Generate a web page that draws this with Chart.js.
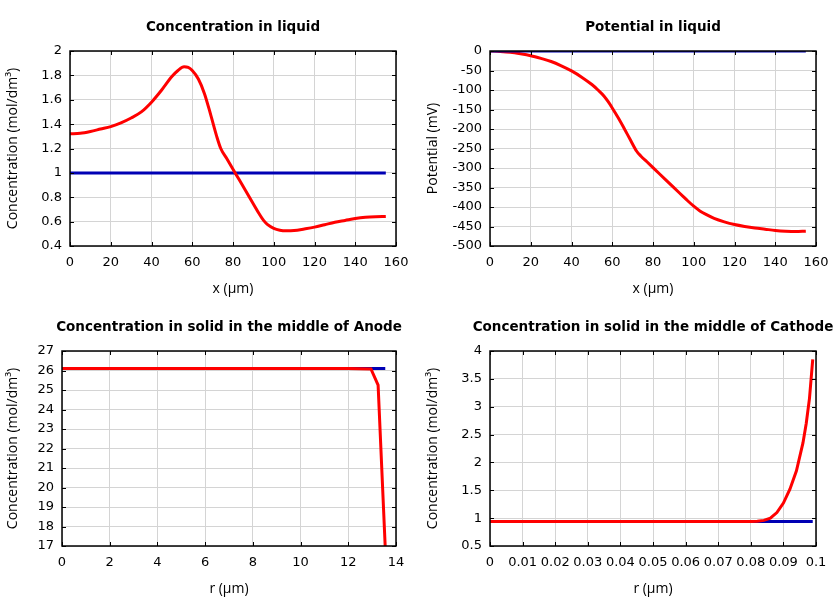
<!DOCTYPE html>
<html><head><meta charset="utf-8">
<script src="https://cdn.jsdelivr.net/npm/chart.js@4/dist/chart.umd.min.js"></script>
<style>
html,body{margin:0;padding:0;background:#fff;width:840px;height:600px;overflow:hidden;position:relative}
canvas{position:absolute}
</style></head><body>
<canvas id="c1" width="466" height="300" style="left:0;top:0"></canvas>
<canvas id="c2" width="466" height="300" style="left:420px;top:0"></canvas>
<canvas id="c3" width="458" height="300" style="left:0;top:300px"></canvas>
<canvas id="c4" width="466" height="300" style="left:420px;top:300px"></canvas>
<script>
// ---- Data ----
const liquidX = [0,5,10,15,20,25,30,35,40,45,50,53,56,58,60,63,66,69,72,74,77,80,83,86,90,93,95,97,100,103,106,110,115,120,125,130,135,140,145,150,155];
const liquidConc = [1.32,1.325,1.34,1.36,1.38,1.41,1.45,1.50,1.58,1.68,1.79,1.84,1.87,1.865,1.84,1.77,1.65,1.48,1.30,1.20,1.115,1.03,0.945,0.86,0.745,0.66,0.61,0.575,0.545,0.53,0.525,0.527,0.54,0.555,0.575,0.595,0.61,0.625,0.635,0.64,0.642];
const liquidConcInitX = [0,155];
const liquidConcInit = [1,1];
const liquidPot = [0,-1,-3,-7,-12,-19,-27,-38,-51,-67,-86,-100,-116,-130,-146,-172,-200,-229,-257,-269,-284,-299,-314,-329,-349,-364,-374,-384,-398,-410,-419,-429,-438,-445,-450,-454,-457,-460,-462,-463,-462];
const liquidPotInitX = [0,155];
const liquidPotInit = [0,0];
const anodeR = [0,2,4,6,8,10,12,12.95,13.25,13.55];
const anodeConc = [26.1,26.1,26.1,26.1,26.1,26.1,26.1,26.08,25.25,16.9];
const anodeInitR = [0,13.55];
const anodeInit = [26.1,26.1];
const cathodeR = [0,0.01,0.02,0.03,0.04,0.05,0.06,0.07,0.08,0.082,0.084,0.086,0.088,0.09,0.092,0.094,0.096,0.097,0.098,0.099];
const cathodeConc = [0.94,0.94,0.94,0.94,0.94,0.94,0.94,0.94,0.94,0.945,0.96,1.0,1.1,1.27,1.52,1.85,2.35,2.7,3.15,3.85];
const cathodeInitR = [0,0.099];
const cathodeInit = [0.94,0.94];

const RED = '#ff0000', BLUE = '#0000b4';
const pts = (xs, ys) => xs.map((x, i) => ({x, y: ys[i]}));
const fmt = v => String(Math.round(v * 1e6) / 1e6);

const boxTicks = {
  id: 'boxTicks',
  afterDatasetsDraw(chart) {
    const {ctx, chartArea: a, scales: {x, y}} = chart;
    ctx.save();
    ctx.strokeStyle = '#000';
    ctx.lineWidth = 1;
    const L = 4;
    ctx.beginPath();
    x.ticks.forEach(t => {
      const px = Math.round(x.getPixelForValue(t.value)) + 0.5;
      ctx.moveTo(px, a.bottom); ctx.lineTo(px, a.bottom - L);
      ctx.moveTo(px, a.top); ctx.lineTo(px, a.top + L);
    });
    y.ticks.forEach(t => {
      const py = Math.round(y.getPixelForValue(t.value)) + 0.5;
      ctx.moveTo(a.left, py); ctx.lineTo(a.left + L, py);
      ctx.moveTo(a.right, py); ctx.lineTo(a.right - L, py);
    });
    ctx.stroke();
    ctx.lineWidth = 1.5;
    ctx.strokeRect(a.left, a.top, a.right - a.left, a.bottom - a.top);
    ctx.restore();
  }
};

function make(id, cfg) {
  const tickFont = {family: 'DejaVu Sans', size: 13};
  const titleFont = {family: 'Open Sans', size: 14};
  new Chart(document.getElementById(id), {
    type: 'scatter',
    data: {datasets: cfg.sets.map(s => ({
      data: s.data, showLine: true, borderColor: s.color, backgroundColor: s.color,
      borderWidth: 3, pointRadius: 0, pointHoverRadius: 0, tension: 0, fill: false,
      cubicInterpolationMode: cfg.smooth ? 'monotone' : 'default'
    }))},
    options: {
      responsive: false, animation: false, events: [],
      layout: {padding: 0},
      plugins: {
        legend: {display: false}, tooltip: {enabled: false},
        title: {display: true, text: cfg.title, color: '#000',
          font: {family: 'DejaVu Sans', size: 13.5, weight: 'bold'},
          padding: {top: 19.3, bottom: 15.5}}
      },
      scales: {
        x: {type: 'linear', min: cfg.x[0], max: cfg.x[1],
          afterFit: s => { s.height = 54; },
          ticks: {stepSize: cfg.x[2], autoSkip: false, maxRotation: 0, color: '#000', font: tickFont, padding: 9, callback: fmt},
          grid: {color: '#d4d4d4', drawTicks: false}, border: {display: false},
          title: {display: true, text: cfg.xTitle, color: '#000', font: titleFont, padding: {top: 0, bottom: 3}}},
        y: {type: 'linear', min: cfg.y[0], max: cfg.y[1],
          afterFit: s => { s.width = cfg.yw; },
          ticks: {stepSize: cfg.y[2], autoSkip: false, color: '#000', font: tickFont, padding: 8, callback: fmt},
          grid: {color: '#d4d4d4', drawTicks: false}, border: {display: false},
          title: {display: true, text: cfg.yTitle, color: '#000', font: titleFont, padding: {top: 5, bottom: 0}}},
        yPad: {type: 'linear', position: 'right', min: cfg.y[0], max: cfg.y[1],
          afterFit: s => { s.width = cfg.yw; },
          ticks: {display: false}, grid: {display: false, drawTicks: false}, border: {display: false},
          title: {display: false}}
      }
    },
    plugins: [boxTicks]
  });
}

make('c1', {title: 'Concentration in liquid', xTitle: 'x (µm)', yTitle: 'Concentration (mol/dm³)',
  x: [0, 160, 20], y: [0.4, 2, 0.2], yw: 70, smooth: true,
  sets: [{data: pts(liquidX, liquidConc), color: RED}, {data: pts(liquidConcInitX, liquidConcInit), color: BLUE}]});
make('c2', {title: 'Potential in liquid', xTitle: 'x (µm)', yTitle: 'Potential (mV)',
  x: [0, 160, 20], y: [-500, 0, 50], yw: 70, smooth: true,
  sets: [{data: pts(liquidPotInitX, liquidPotInit), color: BLUE}, {data: pts(liquidX, liquidPot), color: RED}]});
make('c3', {title: 'Concentration in solid in the middle of Anode', xTitle: 'r (µm)', yTitle: 'Concentration (mol/dm³)',
  x: [0, 14, 2], y: [17, 27, 1], yw: 62, smooth: false,
  sets: [{data: pts(anodeR, anodeConc), color: RED}, {data: pts(anodeInitR, anodeInit), color: BLUE}]});
make('c4', {title: 'Concentration in solid in the middle of Cathode', xTitle: 'r (µm)', yTitle: 'Concentration (mol/dm³)',
  x: [0, 0.1, 0.01], y: [0.5, 4, 0.5], yw: 70, smooth: false,
  sets: [{data: pts(cathodeR, cathodeConc), color: RED}, {data: pts(cathodeInitR, cathodeInit), color: BLUE}]});
</script>
</body></html>
